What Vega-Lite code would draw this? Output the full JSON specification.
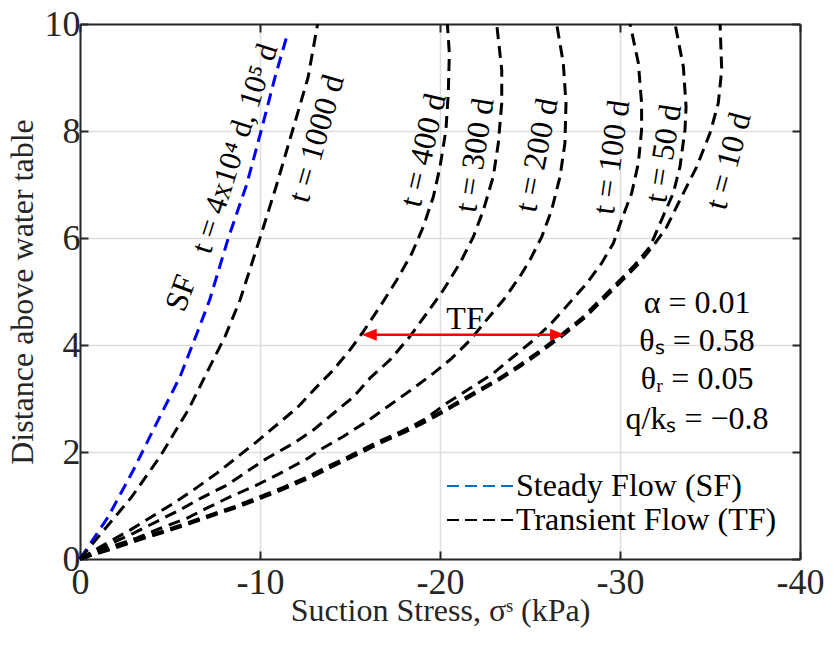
{
  "$schema": "https://vega.github.io/schema/vega-lite/v6.json",
  "autosize": {"type": "none"},
  "padding": {"left": 80, "top": 24, "right": 35, "bottom": 96},
  "width": 720,
  "height": 535,
  "background": "white",
  "config": {
    "view": {"stroke": null},
    "font": "Liberation Serif",
    "text": {"font": "Liberation Serif"},
    "axis": {"labelFont": "Liberation Serif", "titleFont": "Liberation Serif", "titleFontWeight": "normal", "labelColor": "#262626", "titleColor": "#262626", "domainColor": "#262626", "tickColor": "#262626", "domainWidth": 2, "tickWidth": 2}
  },
  "datasets": {
    "curves": [
      {"c":"SF","k":"SF line","x":0,"y":0},{"c":"SF","k":"SF line","x":-1.57,"y":0.79},{"c":"SF","k":"SF line","x":-2.96,"y":1.66},{"c":"SF","k":"SF line","x":-4.26,"y":2.54},{"c":"SF","k":"SF line","x":-5.56,"y":3.41},{"c":"SF","k":"SF line","x":-6.57,"y":4.28},{"c":"SF","k":"SF line","x":-7.2,"y":4.84},{"c":"SF","k":"SF line","x":-8.24,"y":6},{"c":"SF","k":"SF line","x":-9.26,"y":7},{"c":"SF","k":"SF line","x":-10.06,"y":8},{"c":"SF","k":"SF line","x":-10.83,"y":9},{"c":"SF","k":"SF line","x":-11.54,"y":9.83},
      {"c":"1000","k":"Transient Flow (TF)","x":0,"y":0},{"c":"1000","k":"Transient Flow (TF)","x":-1.11,"y":0.45},{"c":"1000","k":"Transient Flow (TF)","x":-2.87,"y":1.16},{"c":"1000","k":"Transient Flow (TF)","x":-4.44,"y":1.91},{"c":"1000","k":"Transient Flow (TF)","x":-6.02,"y":2.79},{"c":"1000","k":"Transient Flow (TF)","x":-7.22,"y":3.6},{"c":"1000","k":"Transient Flow (TF)","x":-8.06,"y":4.16},{"c":"1000","k":"Transient Flow (TF)","x":-8.89,"y":4.84},{"c":"1000","k":"Transient Flow (TF)","x":-10.0,"y":6},{"c":"1000","k":"Transient Flow (TF)","x":-10.93,"y":7},{"c":"1000","k":"Transient Flow (TF)","x":-11.8,"y":8},{"c":"1000","k":"Transient Flow (TF)","x":-12.67,"y":9},{"c":"1000","k":"Transient Flow (TF)","x":-13.2,"y":10},
      {"c":"400","k":"Transient Flow (TF)","x":0,"y":0},{"c":"400","k":"Transient Flow (TF)","x":-1.35,"y":0.27},{"c":"400","k":"Transient Flow (TF)","x":-2.78,"y":0.54},{"c":"400","k":"Transient Flow (TF)","x":-3.98,"y":0.79},{"c":"400","k":"Transient Flow (TF)","x":-5.19,"y":1.04},{"c":"400","k":"Transient Flow (TF)","x":-6.3,"y":1.29},{"c":"400","k":"Transient Flow (TF)","x":-7.59,"y":1.6},{"c":"400","k":"Transient Flow (TF)","x":-9.81,"y":2.19},{"c":"400","k":"Transient Flow (TF)","x":-12.04,"y":2.82},{"c":"400","k":"Transient Flow (TF)","x":-13.33,"y":3.28},{"c":"400","k":"Transient Flow (TF)","x":-14.07,"y":3.53},{"c":"400","k":"Transient Flow (TF)","x":-15.0,"y":3.91},{"c":"400","k":"Transient Flow (TF)","x":-15.74,"y":4.25},{"c":"400","k":"Transient Flow (TF)","x":-16.67,"y":4.72},{"c":"400","k":"Transient Flow (TF)","x":-17.59,"y":5.21},{"c":"400","k":"Transient Flow (TF)","x":-18.43,"y":5.71},{"c":"400","k":"Transient Flow (TF)","x":-19.07,"y":6.21},{"c":"400","k":"Transient Flow (TF)","x":-19.63,"y":6.77},{"c":"400","k":"Transient Flow (TF)","x":-20.0,"y":7.33},{"c":"400","k":"Transient Flow (TF)","x":-20.33,"y":8.02},{"c":"400","k":"Transient Flow (TF)","x":-20.46,"y":8.7},{"c":"400","k":"Transient Flow (TF)","x":-20.52,"y":9.45},{"c":"400","k":"Transient Flow (TF)","x":-20.41,"y":10},
      {"c":"300","k":"Transient Flow (TF)","x":0,"y":0},{"c":"300","k":"Transient Flow (TF)","x":-1.4,"y":0.24},{"c":"300","k":"Transient Flow (TF)","x":-2.96,"y":0.48},{"c":"300","k":"Transient Flow (TF)","x":-4.26,"y":0.7},{"c":"300","k":"Transient Flow (TF)","x":-5.56,"y":0.92},{"c":"300","k":"Transient Flow (TF)","x":-6.67,"y":1.13},{"c":"300","k":"Transient Flow (TF)","x":-8.15,"y":1.38},{"c":"300","k":"Transient Flow (TF)","x":-10.37,"y":1.88},{"c":"300","k":"Transient Flow (TF)","x":-11.85,"y":2.16},{"c":"300","k":"Transient Flow (TF)","x":-12.96,"y":2.41},{"c":"300","k":"Transient Flow (TF)","x":-14.07,"y":2.72},{"c":"300","k":"Transient Flow (TF)","x":-15.19,"y":3.03},{"c":"300","k":"Transient Flow (TF)","x":-16.11,"y":3.38},{"c":"300","k":"Transient Flow (TF)","x":-17.22,"y":3.72},{"c":"300","k":"Transient Flow (TF)","x":-18.33,"y":4.16},{"c":"300","k":"Transient Flow (TF)","x":-19.26,"y":4.59},{"c":"300","k":"Transient Flow (TF)","x":-20.19,"y":5.03},{"c":"300","k":"Transient Flow (TF)","x":-21.11,"y":5.53},{"c":"300","k":"Transient Flow (TF)","x":-21.85,"y":6.02},{"c":"300","k":"Transient Flow (TF)","x":-22.41,"y":6.52},{"c":"300","k":"Transient Flow (TF)","x":-22.96,"y":7.15},{"c":"300","k":"Transient Flow (TF)","x":-23.24,"y":7.77},{"c":"300","k":"Transient Flow (TF)","x":-23.43,"y":8.52},{"c":"300","k":"Transient Flow (TF)","x":-23.43,"y":9.14},{"c":"300","k":"Transient Flow (TF)","x":-23.15,"y":10},
      {"c":"200","k":"Transient Flow (TF)","x":0,"y":0},{"c":"200","k":"Transient Flow (TF)","x":-1.6,"y":0.22},{"c":"200","k":"Transient Flow (TF)","x":-3.15,"y":0.39},{"c":"200","k":"Transient Flow (TF)","x":-4.44,"y":0.57},{"c":"200","k":"Transient Flow (TF)","x":-5.93,"y":0.76},{"c":"200","k":"Transient Flow (TF)","x":-7.04,"y":0.95},{"c":"200","k":"Transient Flow (TF)","x":-8.33,"y":1.16},{"c":"200","k":"Transient Flow (TF)","x":-9.81,"y":1.38},{"c":"200","k":"Transient Flow (TF)","x":-11.11,"y":1.6},{"c":"200","k":"Transient Flow (TF)","x":-12.65,"y":1.88},{"c":"200","k":"Transient Flow (TF)","x":-13.33,"y":2.04},{"c":"200","k":"Transient Flow (TF)","x":-14.63,"y":2.29},{"c":"200","k":"Transient Flow (TF)","x":-15.93,"y":2.57},{"c":"200","k":"Transient Flow (TF)","x":-17.22,"y":2.88},{"c":"200","k":"Transient Flow (TF)","x":-18.52,"y":3.19},{"c":"200","k":"Transient Flow (TF)","x":-19.63,"y":3.47},{"c":"200","k":"Transient Flow (TF)","x":-20.65,"y":3.75},{"c":"200","k":"Transient Flow (TF)","x":-21.67,"y":4.09},{"c":"200","k":"Transient Flow (TF)","x":-22.59,"y":4.47},{"c":"200","k":"Transient Flow (TF)","x":-23.52,"y":4.84},{"c":"200","k":"Transient Flow (TF)","x":-24.44,"y":5.28},{"c":"200","k":"Transient Flow (TF)","x":-25.0,"y":5.59},{"c":"200","k":"Transient Flow (TF)","x":-25.65,"y":6.02},{"c":"200","k":"Transient Flow (TF)","x":-26.2,"y":6.52},{"c":"200","k":"Transient Flow (TF)","x":-26.67,"y":7.15},{"c":"200","k":"Transient Flow (TF)","x":-26.94,"y":7.77},{"c":"200","k":"Transient Flow (TF)","x":-27.0,"y":8.52},{"c":"200","k":"Transient Flow (TF)","x":-26.85,"y":9.27},{"c":"200","k":"Transient Flow (TF)","x":-26.48,"y":10},
      {"c":"100","k":"Transient Flow (TF)","x":0,"y":0},{"c":"100","k":"Transient Flow (TF)","x":-1.62,"y":0.2},{"c":"100","k":"Transient Flow (TF)","x":-3.0,"y":0.36},{"c":"100","k":"Transient Flow (TF)","x":-4.5,"y":0.51},{"c":"100","k":"Transient Flow (TF)","x":-5.9,"y":0.67},{"c":"100","k":"Transient Flow (TF)","x":-7.2,"y":0.82},{"c":"100","k":"Transient Flow (TF)","x":-8.58,"y":0.98},{"c":"100","k":"Transient Flow (TF)","x":-9.97,"y":1.16},{"c":"100","k":"Transient Flow (TF)","x":-11.36,"y":1.35},{"c":"100","k":"Transient Flow (TF)","x":-12.66,"y":1.54},{"c":"100","k":"Transient Flow (TF)","x":-13.77,"y":1.73},{"c":"100","k":"Transient Flow (TF)","x":-15.07,"y":1.94},{"c":"100","k":"Transient Flow (TF)","x":-16.36,"y":2.16},{"c":"100","k":"Transient Flow (TF)","x":-17.83,"y":2.38},{"c":"100","k":"Transient Flow (TF)","x":-19.1,"y":2.6},{"c":"100","k":"Transient Flow (TF)","x":-20.37,"y":2.91},{"c":"100","k":"Transient Flow (TF)","x":-21.67,"y":3.19},{"c":"100","k":"Transient Flow (TF)","x":-22.96,"y":3.47},{"c":"100","k":"Transient Flow (TF)","x":-24.07,"y":3.78},{"c":"100","k":"Transient Flow (TF)","x":-25.19,"y":4.09},{"c":"100","k":"Transient Flow (TF)","x":-26.2,"y":4.41},{"c":"100","k":"Transient Flow (TF)","x":-27.1,"y":4.75},{"c":"100","k":"Transient Flow (TF)","x":-28.15,"y":5.15},{"c":"100","k":"Transient Flow (TF)","x":-28.98,"y":5.53},{"c":"100","k":"Transient Flow (TF)","x":-29.63,"y":5.9},{"c":"100","k":"Transient Flow (TF)","x":-30.09,"y":6.34},{"c":"100","k":"Transient Flow (TF)","x":-30.65,"y":6.84},{"c":"100","k":"Transient Flow (TF)","x":-31.02,"y":7.4},{"c":"100","k":"Transient Flow (TF)","x":-31.2,"y":8.02},{"c":"100","k":"Transient Flow (TF)","x":-31.2,"y":8.52},{"c":"100","k":"Transient Flow (TF)","x":-31.02,"y":9.27},{"c":"100","k":"Transient Flow (TF)","x":-30.56,"y":10},
      {"c":"50","k":"Transient Flow (TF)","x":0,"y":0},{"c":"50","k":"Transient Flow (TF)","x":-1.76,"y":0.2},{"c":"50","k":"Transient Flow (TF)","x":-3.15,"y":0.36},{"c":"50","k":"Transient Flow (TF)","x":-4.63,"y":0.51},{"c":"50","k":"Transient Flow (TF)","x":-6.02,"y":0.67},{"c":"50","k":"Transient Flow (TF)","x":-7.31,"y":0.82},{"c":"50","k":"Transient Flow (TF)","x":-8.7,"y":0.98},{"c":"50","k":"Transient Flow (TF)","x":-10.09,"y":1.16},{"c":"50","k":"Transient Flow (TF)","x":-11.48,"y":1.35},{"c":"50","k":"Transient Flow (TF)","x":-12.78,"y":1.54},{"c":"50","k":"Transient Flow (TF)","x":-13.89,"y":1.73},{"c":"50","k":"Transient Flow (TF)","x":-15.19,"y":1.94},{"c":"50","k":"Transient Flow (TF)","x":-16.48,"y":2.16},{"c":"50","k":"Transient Flow (TF)","x":-17.96,"y":2.38},{"c":"50","k":"Transient Flow (TF)","x":-19.26,"y":2.6},{"c":"50","k":"Transient Flow (TF)","x":-20.56,"y":2.85},{"c":"50","k":"Transient Flow (TF)","x":-21.85,"y":3.1},{"c":"50","k":"Transient Flow (TF)","x":-23.15,"y":3.35},{"c":"50","k":"Transient Flow (TF)","x":-24.26,"y":3.59},{"c":"50","k":"Transient Flow (TF)","x":-25.5,"y":3.88},{"c":"50","k":"Transient Flow (TF)","x":-26.76,"y":4.2},{"c":"50","k":"Transient Flow (TF)","x":-27.87,"y":4.5},{"c":"50","k":"Transient Flow (TF)","x":-28.8,"y":4.81},{"c":"50","k":"Transient Flow (TF)","x":-29.81,"y":5.15},{"c":"50","k":"Transient Flow (TF)","x":-30.83,"y":5.5},{"c":"50","k":"Transient Flow (TF)","x":-31.67,"y":5.84},{"c":"50","k":"Transient Flow (TF)","x":-32.31,"y":6.34},{"c":"50","k":"Transient Flow (TF)","x":-32.96,"y":6.84},{"c":"50","k":"Transient Flow (TF)","x":-33.33,"y":7.33},{"c":"50","k":"Transient Flow (TF)","x":-33.61,"y":8.02},{"c":"50","k":"Transient Flow (TF)","x":-33.67,"y":8.45},{"c":"50","k":"Transient Flow (TF)","x":-33.52,"y":9.2},{"c":"50","k":"Transient Flow (TF)","x":-33.06,"y":10},
      {"c":"10","k":"Transient Flow (TF)","x":0,"y":0},{"c":"10","k":"Transient Flow (TF)","x":-1.9,"y":0.2},{"c":"10","k":"Transient Flow (TF)","x":-3.3,"y":0.36},{"c":"10","k":"Transient Flow (TF)","x":-4.78,"y":0.51},{"c":"10","k":"Transient Flow (TF)","x":-6.17,"y":0.67},{"c":"10","k":"Transient Flow (TF)","x":-7.46,"y":0.82},{"c":"10","k":"Transient Flow (TF)","x":-8.85,"y":0.98},{"c":"10","k":"Transient Flow (TF)","x":-10.24,"y":1.16},{"c":"10","k":"Transient Flow (TF)","x":-11.63,"y":1.35},{"c":"10","k":"Transient Flow (TF)","x":-12.93,"y":1.54},{"c":"10","k":"Transient Flow (TF)","x":-14.04,"y":1.73},{"c":"10","k":"Transient Flow (TF)","x":-15.34,"y":1.94},{"c":"10","k":"Transient Flow (TF)","x":-16.63,"y":2.16},{"c":"10","k":"Transient Flow (TF)","x":-18.11,"y":2.38},{"c":"10","k":"Transient Flow (TF)","x":-19.41,"y":2.6},{"c":"10","k":"Transient Flow (TF)","x":-20.71,"y":2.85},{"c":"10","k":"Transient Flow (TF)","x":-22.0,"y":3.1},{"c":"10","k":"Transient Flow (TF)","x":-23.3,"y":3.35},{"c":"10","k":"Transient Flow (TF)","x":-24.41,"y":3.59},{"c":"10","k":"Transient Flow (TF)","x":-25.65,"y":3.88},{"c":"10","k":"Transient Flow (TF)","x":-26.91,"y":4.2},{"c":"10","k":"Transient Flow (TF)","x":-28.02,"y":4.5},{"c":"10","k":"Transient Flow (TF)","x":-28.95,"y":4.81},{"c":"10","k":"Transient Flow (TF)","x":-29.96,"y":5.15},{"c":"10","k":"Transient Flow (TF)","x":-30.98,"y":5.5},{"c":"10","k":"Transient Flow (TF)","x":-31.82,"y":5.84},{"c":"10","k":"Transient Flow (TF)","x":-32.6,"y":6.21},{"c":"10","k":"Transient Flow (TF)","x":-33.33,"y":6.71},{"c":"10","k":"Transient Flow (TF)","x":-34.26,"y":7.33},{"c":"10","k":"Transient Flow (TF)","x":-35.0,"y":7.96},{"c":"10","k":"Transient Flow (TF)","x":-35.46,"y":8.52},{"c":"10","k":"Transient Flow (TF)","x":-35.65,"y":9.14},{"c":"10","k":"Transient Flow (TF)","x":-35.56,"y":10}
    ],
    "labels": [
      {"id":"long","label":"t = 4x10⁴ d, 10⁵ d","x":-8.64,"y":7.67},
      {"id":"1000","label":"t = 1000 d","x":-13.14,"y":7.86},
      {"id":"SF","label":"SF","x":-5.61,"y":4.97},
      {"id":"400","label":"t = 400 d","x":-19.08,"y":7.64},
      {"id":"300","label":"t = 300 d","x":-21.94,"y":7.55},
      {"id":"200","label":"t = 200 d","x":-25.39,"y":7.55},
      {"id":"100","label":"t = 100 d","x":-29.53,"y":7.51},
      {"id":"50","label":"t = 50 d","x":-32.42,"y":7.58},
      {"id":"10","label":"t = 10 d","x":-36.03,"y":7.44}
    ],
    "notes": [
      {"label":"α = 0.01","x":-34.28,"y":4.79},
      {"label":"θₛ = 0.58","x":-34.28,"y":4.07},
      {"label":"θᵣ = 0.05","x":-34.28,"y":3.36},
      {"label":"q/kₛ = −0.8","x":-34.28,"y":2.62},
      {"label":"TF","x":-21.39,"y":4.49}
    ],
    "arrow": [{"x1":-16.07,"x2":-26.53,"y":4.19}],
    "heads": [{"x":-16.07,"y":4.19,"dir":"L"},{"x":-26.53,"y":4.19,"dir":"R"}]
  },
  "resolve": {"axis": {"x": "independent", "y": "independent"}},
  "layer": [
    {
      "data": {"name": "curves"},
      "mark": {"type": "line", "strokeWidth": 3, "strokeDash": [12, 7]},
      "encoding": {
        "x": {"field": "x", "type": "quantitative", "scale": {"domain": [0, -40], "nice": false, "zero": false},
          "axis": {"orient": "bottom", "values": [0, -10, -20, -30, -40], "labelExpr": "datum.value == 0 ? '0' : '-' + abs(datum.value)", "labelFont": "Liberation Serif", "labelFontSize": 36, "labelFlush": false, "labelOverlap": false, "tickSize": -8, "labelPadding": 14, "grid": true, "gridColor": "#dedede", "gridWidth": 1.5, "title": "Suction Stress, σˢ (kPa)", "titleFont": "Liberation Serif", "titleFontSize": 32, "titlePadding": -5}},
        "y": {"field": "y", "type": "quantitative", "scale": {"domain": [0, 10], "nice": false, "zero": false},
          "axis": {"orient": "left", "values": [0, 2, 4, 6, 8, 10], "labelFont": "Liberation Serif", "labelFontSize": 36, "labelFlush": false, "labelOverlap": false, "tickSize": -8, "labelPadding": 8, "grid": true, "gridColor": "#dedede", "gridWidth": 1.5, "title": "Distance above water table", "titleFont": "Liberation Serif", "titleFontSize": 32, "titlePadding": 5}},
        "color": {"field": "k", "type": "nominal",
          "scale": {"domain": ["SF line", "Steady Flow (SF)", "Transient Flow (TF)"], "range": ["#0000ff", "#0072bd", "#000000"]},
          "legend": {"values": ["Steady Flow (SF)", "Transient Flow (TF)"], "orient": "none", "legendX": 366, "legendY": 445, "title": null, "labelFont": "Liberation Serif", "labelFontSize": 32, "labelColor": "#000000", "labelLimit": 500, "symbolType": "stroke", "symbolSize": 4356, "symbolStrokeWidth": 2, "symbolDash": [12, 6], "clipHeight": 34, "rowPadding": 0, "labelOffset": 2, "padding": 0}},
        "detail": {"field": "c", "type": "nominal"},
        "order": {"field": "y", "type": "quantitative"}
      }
    },
    {
      "data": {"name": "arrow"},
      "mark": {"type": "rule", "color": "#ff0000", "strokeWidth": 2.5},
      "encoding": {
        "x": {"field": "x1", "type": "quantitative", "axis": {"orient": "top", "values": [0, -10, -20, -30, -40], "labels": false, "grid": false, "tickSize": -8, "title": null}},
        "x2": {"field": "x2"},
        "y": {"field": "y", "type": "quantitative", "axis": {"orient": "right", "values": [0, 2, 4, 6, 8, 10], "labels": false, "grid": false, "tickSize": -8, "title": null}}
      }
    },
    {
      "data": {"name": "heads"},
      "mark": {"type": "point", "filled": true, "color": "#ff0000", "opacity": 1, "size": 225},
      "encoding": {
        "x": {"field": "x", "type": "quantitative", "axis": null},
        "y": {"field": "y", "type": "quantitative", "axis": null},
        "shape": {"field": "dir", "type": "nominal", "scale": {"domain": ["L", "R"], "range": ["M -1 0 L 1 -0.8 L 1 0.8 Z", "M 1 0 L -1 -0.8 L -1 0.8 Z"]}, "legend": null}
      }
    },
    {
      "data": {"name": "notes"},
      "mark": {"type": "text", "font": "Liberation Serif", "fontSize": 32, "color": "#000000", "align": "center", "baseline": "middle"},
      "encoding": {
        "x": {"field": "x", "type": "quantitative", "axis": null},
        "y": {"field": "y", "type": "quantitative", "axis": null},
        "text": {"field": "label"}
      }
    },
    {"data": {"name": "labels"}, "transform": [{"filter": "datum.id == 'long'"}], "mark": {"type": "text", "font": "Liberation Serif", "fontSize": 31, "color": "#000000", "align": "center", "baseline": "middle", "angle": 288}, "encoding": {"x": {"field": "x", "type": "quantitative", "axis": null}, "y": {"field": "y", "type": "quantitative", "axis": null}, "text": {"field": "label"}}},
    {"data": {"name": "labels"}, "transform": [{"filter": "datum.id == '1000'"}], "mark": {"type": "text", "font": "Liberation Serif", "fontSize": 32, "color": "#000000", "align": "center", "baseline": "middle", "angle": 286}, "encoding": {"x": {"field": "x", "type": "quantitative", "axis": null}, "y": {"field": "y", "type": "quantitative", "axis": null}, "text": {"field": "label"}}},
    {"data": {"name": "labels"}, "transform": [{"filter": "datum.id == 'SF'"}], "mark": {"type": "text", "font": "Liberation Serif", "fontSize": 32, "color": "#000000", "align": "center", "baseline": "middle", "angle": 290}, "encoding": {"x": {"field": "x", "type": "quantitative", "axis": null}, "y": {"field": "y", "type": "quantitative", "axis": null}, "text": {"field": "label"}}},
    {"data": {"name": "labels"}, "transform": [{"filter": "datum.id == '400'"}], "mark": {"type": "text", "font": "Liberation Serif", "fontSize": 32, "color": "#000000", "align": "center", "baseline": "middle", "angle": 283}, "encoding": {"x": {"field": "x", "type": "quantitative", "axis": null}, "y": {"field": "y", "type": "quantitative", "axis": null}, "text": {"field": "label"}}},
    {"data": {"name": "labels"}, "transform": [{"filter": "datum.id == '300'"}], "mark": {"type": "text", "font": "Liberation Serif", "fontSize": 32, "color": "#000000", "align": "center", "baseline": "middle", "angle": 279}, "encoding": {"x": {"field": "x", "type": "quantitative", "axis": null}, "y": {"field": "y", "type": "quantitative", "axis": null}, "text": {"field": "label"}}},
    {"data": {"name": "labels"}, "transform": [{"filter": "datum.id == '200'"}], "mark": {"type": "text", "font": "Liberation Serif", "fontSize": 32, "color": "#000000", "align": "center", "baseline": "middle", "angle": 281}, "encoding": {"x": {"field": "x", "type": "quantitative", "axis": null}, "y": {"field": "y", "type": "quantitative", "axis": null}, "text": {"field": "label"}}},
    {"data": {"name": "labels"}, "transform": [{"filter": "datum.id == '100'"}], "mark": {"type": "text", "font": "Liberation Serif", "fontSize": 32, "color": "#000000", "align": "center", "baseline": "middle", "angle": 278}, "encoding": {"x": {"field": "x", "type": "quantitative", "axis": null}, "y": {"field": "y", "type": "quantitative", "axis": null}, "text": {"field": "label"}}},
    {"data": {"name": "labels"}, "transform": [{"filter": "datum.id == '50'"}], "mark": {"type": "text", "font": "Liberation Serif", "fontSize": 32, "color": "#000000", "align": "center", "baseline": "middle", "angle": 279}, "encoding": {"x": {"field": "x", "type": "quantitative", "axis": null}, "y": {"field": "y", "type": "quantitative", "axis": null}, "text": {"field": "label"}}},
    {"data": {"name": "labels"}, "transform": [{"filter": "datum.id == '10'"}], "mark": {"type": "text", "font": "Liberation Serif", "fontSize": 32, "color": "#000000", "align": "center", "baseline": "middle", "angle": 285}, "encoding": {"x": {"field": "x", "type": "quantitative", "axis": null}, "y": {"field": "y", "type": "quantitative", "axis": null}, "text": {"field": "label"}}}
  ]
}
